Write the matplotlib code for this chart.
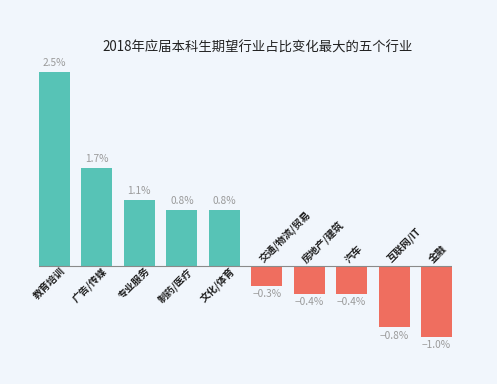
import matplotlib
matplotlib.use("Agg")
import matplotlib.pyplot as plt
import numpy as np

plt.rcParams['font.family'] = ['Noto Sans CJK SC', 'DejaVu Sans']

categories = ["教育培训", "广告/传媒", "专业服务", "制药/医疗", "文化/体育",
              "交通/物流/贸易", "房地产/建筑", "汽车", "互联网/IT", "金融"]
# bar heights as drawn (percentage points)
values = [2.5, 1.26, 0.85, 0.72, 0.72, -0.25, -0.36, -0.36, -0.79, -0.91]
value_labels = ["2.5%", "1.7%", "1.1%", "0.8%", "0.8%",
                "−0.3%", "−0.4%", "−0.4%", "−0.8%", "−1.0%"]
title = "2018年应届本科生期望行业占比变化最大的五个行业"

W, H = 497, 384
bg = "#F1F6FC"
teal = "#57C3B6"
red = "#EF6E5F"

fig = plt.figure(figsize=(W / 100, H / 100), dpi=100, facecolor=bg)
ax = fig.add_axes([39 / W, 34 / H, (452 - 39) / W, (324 - 34) / H])
ax.set_facecolor(bg)

x = np.arange(len(categories))
colors = [teal if v >= 0 else red for v in values]
ax.bar(x, values, width=0.73, color=colors, zorder=2)
ax.set_xlim(-0.365, len(categories) - 1 + 0.365)
ax.set_ylim(-1.08, 2.655)
ax.axhline(0, color="#8a8a8a", lw=0.8, zorder=3)

for xi, v, lab, cat in zip(x, values, value_labels, categories):
    if v >= 0:
        ax.text(xi, v + 0.05, lab, ha="center", va="bottom", fontsize=7.3,
                color="#9a9a9a")
        ax.text(xi + 0.22, -0.05, cat, rotation=45, rotation_mode="anchor",
                ha="right", va="center", fontsize=7.2, fontweight="bold",
                color="#222222")
    else:
        ax.text(xi, v - 0.04, lab, ha="center", va="top", fontsize=7.3,
                color="#9a9a9a")
        ax.text(xi - 0.12, 0.07, cat, rotation=45, rotation_mode="anchor",
                ha="left", va="center", fontsize=7.2, fontweight="bold",
                color="#222222")

ax.axis("off")
fig.text(258 / W, 1 - 48 / H, title, ha="center", va="center", fontsize=9.6,
         color="#222222")

fig.savefig("out.png", dpi=100, facecolor=bg)
